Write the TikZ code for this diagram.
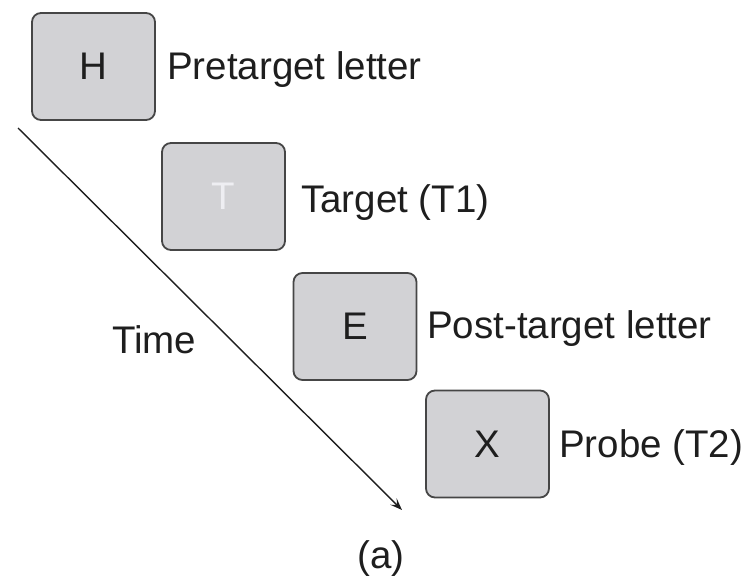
\documentclass[tikz,border=0pt]{standalone}
\usepackage{fontspec}
\setmainfont{Liberation Sans}
\usetikzlibrary{arrows.meta}
\definecolor{boxfill}{RGB}{210,210,213}
\definecolor{boxline}{RGB}{70,70,70}
\definecolor{ink}{RGB}{30,30,30}
\definecolor{faint}{RGB}{238,238,242}
\tikzset{
  letterbox/.style={draw=boxline, fill=boxfill, line width=1.8pt, rounded corners=9pt,
    minimum width=123pt, minimum height=107pt, inner sep=0pt, text=ink,
    font=\fontsize{38.5}{46}\selectfont},
  caption/.style={anchor=base west, inner sep=0pt, text=ink, font=\fontsize{38.5}{46}\selectfont},
  timearrow/.style={draw=ink, line width=1.4pt, -{Stealth[length=12pt,width=9pt,inset=5pt]}}
}
\begin{document}
\begin{tikzpicture}[x=1pt,y=-1pt]
\useasboundingbox (0,0) rectangle (745,578);
\node[letterbox] (bH) at (93.5,66.5) {H};
\node[letterbox, text=faint] (bT) at (223.5,196.5) {T};
\node[letterbox] (bE) at (355,326.5) {E};
\node[letterbox] (bX) at (487.5,444) {X};
\node[caption] (lH) at (167,80) {Pretarget letter};
\node[caption] (lT) at (301,212) {Target (T1)};
\node[caption] (lE) at (427,338) {Post-target letter};
\node[caption] (lX) at (559,457) {Probe (T2)};
\node[caption] (time) at (112,353) {Time};
\node[caption, anchor=base] (cap) at (381,568) {(a)};
\coordinate (ts) at (18,128);
\coordinate (te) at (402,510);
\draw[timearrow] (ts) -- (te);
\end{tikzpicture}
\end{document}
